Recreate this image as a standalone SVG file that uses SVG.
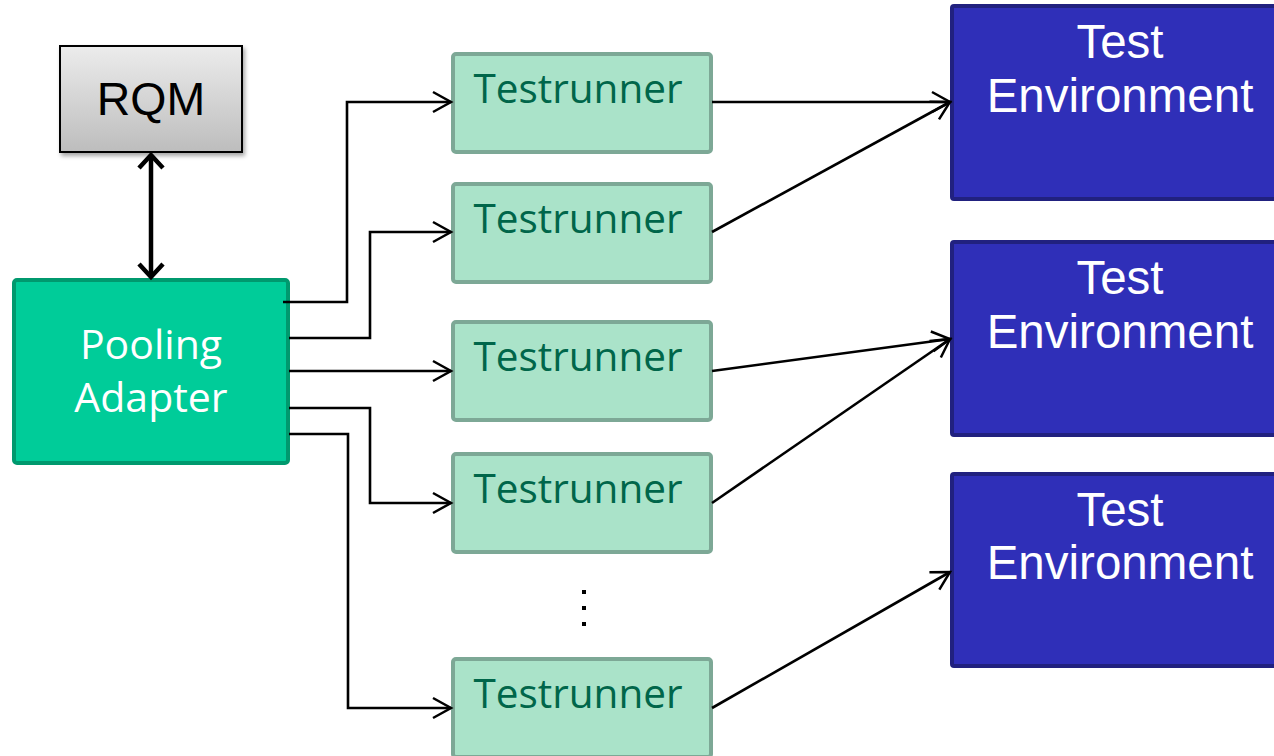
<svg xmlns="http://www.w3.org/2000/svg" width="1274" height="756" viewBox="0 0 1274 756">
  <defs>
    <linearGradient id="rqmGrad" x1="0" y1="0" x2="0" y2="1">
      <stop offset="0" stop-color="#ececec"/>
      <stop offset="1" stop-color="#bdbdbd"/>
    </linearGradient>
    <filter id="shadow" x="-10%" y="-10%" width="130%" height="130%">
      <feDropShadow dx="2" dy="3" stdDeviation="2" flood-color="#000" flood-opacity="0.35"/>
    </filter>
    <marker id="open" viewBox="-22 -13 25 26" markerWidth="25" markerHeight="26" refX="0" refY="0" markerUnits="userSpaceOnUse" orient="auto">
      <path d="M-18,-10 L0,0 L-18,10" fill="none" stroke="#000" stroke-width="2.5" stroke-linejoin="miter"/>
    </marker>
    <marker id="thick" viewBox="-18 -16 22 32" markerWidth="22" markerHeight="32" refX="0" refY="0" markerUnits="userSpaceOnUse" orient="auto-start-reverse">
      <path d="M-13,-12 L0,0 L-13,12" fill="none" stroke="#000" stroke-width="4.5" stroke-linejoin="miter"/>
    </marker>
    <style>
      .tr rect { fill: #aae3c9; stroke: #7da896; stroke-width: 4; }
      .tr text { font-family: "Open Sans", "Liberation Sans", sans-serif; font-size: 40.5px; fill: #00664a; text-anchor: middle; }
      .te rect { fill: #2f2fb8; stroke: #21217f; stroke-width: 4; }
      .te text { font-family: "Liberation Sans", Arial, sans-serif; font-size: 47.5px; fill: #ffffff; text-anchor: middle; }
      .conn { fill: none; stroke: #000; stroke-width: 2.6; marker-end: url(#open); }
    </style>
  </defs>

  <g id="rqm">
    <rect x="60" y="46" width="182" height="106" fill="url(#rqmGrad)" stroke="#000" stroke-width="2" filter="url(#shadow)"/>
    <text x="151" y="115" font-family="Liberation Sans, Arial, sans-serif" font-size="46.5" fill="#000" text-anchor="middle">RQM</text>
  </g>

  <g id="pooling-adapter">
    <rect x="14" y="280" width="274" height="183" rx="3" fill="#00cc99" stroke="#00996e" stroke-width="4"/>
    <text x="151" y="359" font-family="Open Sans, Liberation Sans, sans-serif" font-size="41" fill="#ffffff" text-anchor="middle">Pooling</text>
    <text x="151" y="412" font-family="Open Sans, Liberation Sans, sans-serif" font-size="41" fill="#ffffff" text-anchor="middle">Adapter</text>
  </g>

  <g id="testrunner-1" class="tr">
    <rect x="453" y="54" width="258" height="98" rx="3"/>
    <text x="578" y="103">Testrunner</text>
  </g>
  <g id="testrunner-2" class="tr">
    <rect x="453" y="184" width="258" height="98" rx="3"/>
    <text x="578" y="233">Testrunner</text>
  </g>
  <g id="testrunner-3" class="tr">
    <rect x="453" y="322" width="258" height="98" rx="3"/>
    <text x="578" y="371">Testrunner</text>
  </g>
  <g id="testrunner-4" class="tr">
    <rect x="453" y="454" width="258" height="98" rx="3"/>
    <text x="578" y="503">Testrunner</text>
  </g>
  <g id="testrunner-5" class="tr">
    <rect x="453" y="659" width="258" height="98" rx="3"/>
    <text x="578" y="708">Testrunner</text>
  </g>

  <g id="ellipsis" fill="#000">
    <rect x="582" y="590" width="4" height="4"/>
    <rect x="582" y="606" width="4" height="4"/>
    <rect x="582" y="622" width="4" height="4"/>
  </g>

  <g id="test-env-1" class="te">
    <rect x="952" y="6" width="340" height="193" rx="2"/>
    <text x="1120" y="58">Test</text>
    <text x="1120" y="112">Environment</text>
  </g>
  <g id="test-env-2" class="te">
    <rect x="952" y="242" width="340" height="193" rx="2"/>
    <text x="1120" y="294">Test</text>
    <text x="1120" y="348">Environment</text>
  </g>
  <g id="test-env-3" class="te">
    <rect x="952" y="474" width="340" height="192" rx="2"/>
    <text x="1120" y="526">Test</text>
    <text x="1120" y="579">Environment</text>
  </g>

  <g id="connectors">
    <line x1="151" y1="155" x2="151" y2="277" stroke="#000" stroke-width="4.5" marker-start="url(#thick)" marker-end="url(#thick)"/>
    <path class="conn" d="M283,302 H347 V102 H451"/>
    <path class="conn" d="M289,338 H370 V232 H451"/>
    <path class="conn" d="M289,371 H451"/>
    <path class="conn" d="M289,408 H370 V503 H451"/>
    <path class="conn" d="M289,434 H348 V708 H451"/>
    <path class="conn" d="M712,102 H950"/>
    <path class="conn" d="M712,232 L950,102"/>
    <path class="conn" d="M712,371 L950,339"/>
    <path class="conn" d="M712,503 L950,339"/>
    <path class="conn" d="M712,708 L950,572"/>
  </g>
</svg>
